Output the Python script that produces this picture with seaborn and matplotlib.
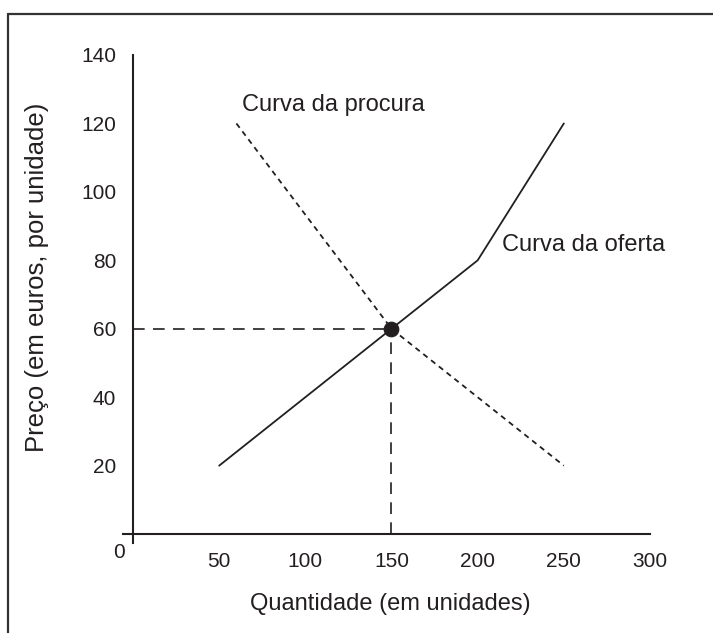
import matplotlib

matplotlib.use('Agg')

import matplotlib.pyplot as plt
import matplotlib.lines as mlines
import pandas as pd
import seaborn as sns

# ============================================================
# Data
# ============================================================

oferta_q = [50, 150, 200, 250]
oferta_p = [20, 60, 80, 120]

procura_q = [60, 150, 250]
procura_p = [120, 60, 20]

equilibrio_q = 150
equilibrio_p = 60

x_ticks = [50, 100, 150, 200, 250, 300]
y_ticks = [20, 40, 60, 80, 100, 120, 140]

ink = '#231f20'

# ============================================================
# Figure
# ============================================================

sns.set_style('white')
plt.rcParams['font.family'] = ['Liberation Sans', 'DejaVu Sans']

fig = plt.figure(figsize=(7.13, 6.33), dpi=100)
ax = fig.add_axes([123 / 713, 1 - 543 / 633, 527 / 713, 488 / 633])

oferta = pd.DataFrame({'q': oferta_q, 'p': oferta_p})
procura = pd.DataFrame({'q': procura_q, 'p': procura_p})

sns.lineplot(data=oferta, x='q', y='p', ax=ax, color=ink, lw=1.3,
             sort=False, estimator=None)
sns.lineplot(data=procura, x='q', y='p', ax=ax, color=ink, lw=1.3,
             sort=False, estimator=None, dashes=False, linestyle=(0, (3, 2.5)))

# guide lines to the axes
ax.plot([0, equilibrio_q], [equilibrio_p, equilibrio_p], color=ink,
        lw=1.2, linestyle=(0, (7, 5)))
ax.plot([equilibrio_q, equilibrio_q], [0, equilibrio_p], color=ink,
        lw=1.2, linestyle=(0, (7, 5)))

sns.scatterplot(x=[equilibrio_q], y=[equilibrio_p], ax=ax, color=ink,
                s=110, edgecolor=ink, zorder=5)

ax.text(63, 125.5, 'Curva da procura', fontsize=17, color=ink,
        ha='left', va='center')
ax.text(214, 84.5, 'Curva da oferta', fontsize=17, color=ink,
        ha='left', va='center')

# axes through the origin
ax.set_xlim(-5.8, 300)
ax.set_ylim(-2.6, 140)
ax.spines['left'].set_position(('data', 0))
ax.spines['bottom'].set_position(('data', 0))
ax.spines['top'].set_visible(False)
ax.spines['right'].set_visible(False)
for s in ['left', 'bottom']:
    ax.spines[s].set_color(ink)
    ax.spines[s].set_linewidth(1.5)

ax.set_xticks(x_ticks)
ax.set_yticks(y_ticks)
ax.tick_params(axis='x', direction='out', length=9, width=1.5,
               colors=ink, labelsize=15, pad=4)
ax.tick_params(axis='y', direction='out', length=8, width=1.5,
               colors=ink, labelsize=15, pad=4)
ax.text(-5, -2.5, '0', fontsize=15, color=ink, ha='right', va='top')

ax.set_xlabel('')
ax.set_ylabel('')
fig.text(390 / 713, 1 - 604 / 633, 'Quantidade (em unidades)',
         fontsize=17, color=ink, ha='center', va='center')
fig.text(37 / 713, 1 - 277 / 633, 'Preço (em euros, por unidade)',
         fontsize=18.5, color=ink, ha='center', va='center', rotation=90)

# frame (top and left edges only)
fig.add_artist(mlines.Line2D([8 / 713, 8 / 713], [0, 1 - 14 / 633],
                             transform=fig.transFigure, color='#333333', lw=1.6))
fig.add_artist(mlines.Line2D([8 / 713, 1], [1 - 14 / 633, 1 - 14 / 633],
                             transform=fig.transFigure, color='#333333', lw=1.6))

fig.savefig('out.png', dpi=100)
plt.close(fig)
